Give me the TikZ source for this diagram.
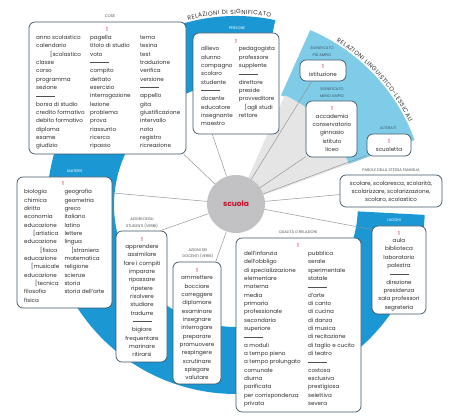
\documentclass[tikz,border=0pt]{standalone}
\usepackage{fontspec}
\setmainfont{Poppins}
\usetikzlibrary{decorations.text}
\definecolor{ringblue}{RGB}{27,152,212}
\definecolor{lightblue}{RGB}{126,204,232}
\definecolor{wedgegrey}{RGB}{229,229,229}
\definecolor{circgrey}{RGB}{194,194,196}
\definecolor{redtxt}{RGB}{200,16,46}
\definecolor{boxline}{RGB}{61,85,102}
\definecolor{txt}{RGB}{45,45,45}
\definecolor{lbl}{RGB}{80,80,80}
\definecolor{conncol}{RGB}{150,150,150}
\newcommand\itfont{\fontsize{5.6}{8.333}\selectfont}
\newcommand\lbfont{\fontsize{3.8}{6.8}\selectfont}
\newcommand\crvfont{\fontsize{6}{7}\selectfont}
\newcommand\rl{\textcolor{lbl}{\rule[1.6pt]{19pt}{0.4pt}}}
\tikzset{
  box/.style={draw=boxline, line width=0.7pt, fill=white, rounded corners=6pt, inner sep=0pt},
  itm/.style={font=\itfont, text=txt, inner sep=0pt, text height=4.1pt, text depth=1.2pt},
  one/.style={font=\itfont, text=redtxt, inner sep=0pt},
  lab/.style={font=\lbfont, text=lbl, inner sep=0pt, align=center},
  labw/.style={lab, text=white},
  labd/.style={lab, text=boxline},
  conn/.style={draw=conncol, line width=0.5pt}
}
\begin{document}
\begin{tikzpicture}[x=1pt,y=-1pt]
\fill[white] (0,0) rectangle (474,419);
\useasboundingbox (0,0) rectangle (474,419);
% background bands
\begin{scope}[shift={(236,205)}, y=1pt]
  \fill[ringblue] (78:189) arc[start angle=78, end angle=357, radius=189]
     -- (357:122) arc[start angle=357, end angle=78, radius=122] -- cycle;
  \fill[lightblue] (67:190) arc[start angle=67, end angle=20, radius=190]
     -- (20:118) arc[start angle=20, end angle=67, radius=120] -- cycle;
  \fill[wedgegrey] (0,0) -- (20:120) arc[start angle=20, end angle=66, radius=120] -- cycle;
  \path[decorate, decoration={text along path, text align=fit to path,
     text={|\crvfont\color{txt}|RELAZIONI DI SIGNIFICATO}}]
     (104.5:191) arc[start angle=104.5, end angle=79.5, radius=191];
  \path[decorate, decoration={text along path, text align=fit to path,
     text={|\crvfont\color{txt}|RELAZIONI LINGUISTICO-LESSICALI}}]
     (58.5:192) arc[start angle=58.5, end angle=25.5, radius=192];
\end{scope}

% centre
\node[circle, fill=circgrey, minimum size=58pt, inner sep=0pt, text=redtxt,
      font=\fontsize{7.5}{9}\selectfont\bfseries] (scuola) at (236,204) {scuola};

% boxes
\node[box, minimum width=157pt, minimum height=132pt] (cose) at (107.5,88) {};
\node[box, minimum width=86pt, minimum height=101pt] (persone) at (236,83.5) {};
\node[box, minimum width=46pt, minimum height=21pt] (istituz) at (323,70.5) {};
\node[box, minimum width=51pt, minimum height=56pt] (accad) at (331.5,129) {};
\node[box, minimum width=44pt, minimum height=22pt] (alter) at (389,145) {};
\node[box, minimum width=102pt, minimum height=32pt] (parole) at (391,191) {};
\node[box, minimum width=54pt, minimum height=88pt] (luoghi) at (399,270) {};
\node[box, minimum width=125pt, minimum height=174pt] (qualita) at (298.5,325) {};
\node[box, minimum width=95pt, minimum height=131pt] (materie) at (64.5,242.5) {};
\node[box, minimum width=51pt, minimum height=131pt] (studenti) at (141.5,296.5) {};
\node[box, minimum width=48pt, minimum height=122pt] (docenti) at (197,323) {};

% connectors
\draw[conn] (scuola) -- (cose.-41);
\draw[conn] (scuola) -- (persone.245);
\draw[conn] (scuola) -- (istituz.-136);
\draw[conn] (scuola) -- (accad.-133);
\draw[conn] (scuola) -- (alter.-155);
\draw[conn] (scuola) -- (parole.-176);
\draw[conn] (scuola) -- (luoghi.124);
\draw[conn] (scuola) -- (materie.46);
\draw[conn] (scuola) -- (studenti.74);
\draw[conn] (scuola) -- (docenti.73.5);

% labels
\node[lab] (l-cose) at (110,16) {COSE};
\node[labw] (l-pers) at (237,28) {PERSONE};
\node[labd] (l-piu) at (322,51.5) {SIGNIFICATO\\PIÙ AMPIO};
\node[labd] (l-meno) at (332,92.5) {SIGNIFICATO\\MENO AMPIO};
\node[labd] (l-alt) at (388,128) {ALTERATI};
\node[lab] (l-par) at (391,170) {PAROLE DELLA STESSA FAMIGLIA};
\node[labw] (l-luo) at (394,220) {LUOGHI};
\node[lab] (l-qual) at (298,232) {QUALITÀ O RELAZIONI};
\node[labw] (l-mat) at (75,171) {MATERIE};
\node[lab] (l-stu) at (142,223) {AZIONI DEGLI\\STUDENTI (VERBI)};
\node[lab] (l-doc) at (198,253.5) {AZIONI DEI\\DOCENTI (VERBI)};

% red numbers
\node[one] (n-cose) at (107,29) {1};
\node[one] (n-pers) at (236,41) {1};
\node[one] (n-ist) at (323,66) {1};
\node[one] (n-acc) at (332,108) {1};
\node[one] (n-alt) at (389,141) {1};
\node[one] (n-luo) at (399,233) {1};
\node[one] (n-qual) at (298,245) {1};
\node[one] (n-mat) at (63,183) {1};
\node[one] (n-stu) at (142,239) {1};
\node[one] (n-doc) at (197,270) {1};

% COSE
\foreach \dx/\t [count=\i] in {0/anno scolastico,0/calendario,14/[scolastico,0/classe,0/corso,0/programma,0/sezione,0/\rl,0/borsa di studio,0/credito formativo,0/debito formativo,0/diploma,0/esame,0/giudizio}
  \node[itm, anchor=west] (ca-\i) at ({36+\dx},{38+(\i-1)*8.333}) {\t};
\foreach \t [count=\i] in {pagella,titolo di studio,voto,\rl,compito,dettato,esercizio,interrogazione,lezione,problema,prova,riassunto,ricerca,ripasso}
  \node[itm, anchor=west] (cb-\i) at (90,{38+(\i-1)*8.333}) {\t};
\foreach \t [count=\i] in {tema,tesina,test,traduzione,verifica,versione,\rl,appello,gita,giustificazione,intervallo,nota,registro,ricreazione}
  \node[itm, anchor=west] (cc-\i) at (140,{38+(\i-1)*8.333}) {\t};

% PERSONE
\foreach \t [count=\i] in {allievo,alunno,compagno,scolaro,studente,\rl,docente,educatore,insegnante,maestro}
  \node[itm, anchor=west] (pa-\i) at (201,{49.33+(\i-1)*8.333}) {\t};
\foreach \dx/\t [count=\i] in {0/pedagogista,0/professore,0/supplente,0/\rl,0/direttore,0/preside,0/provveditore,6/[agli studi,0/rettore}
  \node[itm, anchor=west] (pb-\i) at ({238.7+\dx},{49.33+(\i-1)*8.333}) {\t};

% istituzione, accademia, scuoletta
\node[itm] (ist-1) at (323,74.7) {istituzione};
\foreach \t [count=\i] in {accademia,conservatorio,ginnasio,istituto,liceo}
  \node[itm] (acc-\i) at (332,{116.7+(\i-1)*8.333}) {\t};
\node[itm] (alt-1) at (389,150) {scuoletta};

% PAROLE
\node[itm, align=center, text height=, text depth=] (par-1) at (391,191.7)
  {scolare, scolaresca, scolarità,\\scolarizzare, scolarizzazione,\\scolaro, scolastico};

% LUOGHI
\foreach \t [count=\i] in {aula,biblioteca,laboratorio,palestra,\rl,direzione,presidenza,sala professori,segreteria}
  \node[itm] (luo-\i) at (399,{241+(\i-1)*8.333}) {\t};

% QUALITA
\foreach \t [count=\i] in {dell’infanzia,dell’obbligo,di specializzazione,elementare,materna,media,primaria,professionale,secondaria,superiore,\rl,a moduli,a tempo pieno,a tempo prolungato,comunale,diurna,parificata,per corrispondenza,privata}
  \node[itm, anchor=west] (qa-\i) at (244,{254+(\i-1)*8.333}) {\t};
\foreach \t [count=\i] in {pubblica,serale,sperimentale,statale,\rl,d’arte,di canto,di cucina,di danza,di musica,di recitazione,di taglio e cucito,di teatro,\rl,costosa,esclusiva,prestigiosa,selettiva,severa}
  \node[itm, anchor=west] (qb-\i) at (308,{254+(\i-1)*8.333}) {\t};

% MATERIE
\foreach \dx/\t [count=\i] in {0/biologia,0/chimica,0/diritto,0/economia,0/educazione,9/[artistica,0/educazione,16/[fisica,0/educazione,7/[musicale,0/educazione,11/[tecnica,0/filosofia,0/fisica}
  \node[itm, anchor=west] (ma-\i) at ({24+\dx},{192.3+(\i-1)*8.333}) {\t};
\foreach \dx/\t [count=\i] in {0/geografia,0/geometria,0/greco,0/italiano,0/latino,0/lettere,0/lingua,7/[straniera,0/matematica,0/religione,0/scienze,0/storia,0/storia dell’arte}
  \node[itm, anchor=west] (mb-\i) at ({64.3+\dx},{192.3+(\i-1)*8.333}) {\t};

% STUDENTI
\foreach \t [count=\i] in {apprendere,assimilare,fare i compiti,imparare,ripassare,ripetere,risolvere,studiare,tradurre,\rl,bigiare,frequentare,marinare,ritirarsi}
  \node[itm] (st-\i) at (142,{247+(\i-1)*8.333}) {\t};

% DOCENTI
\foreach \t [count=\i] in {ammettere,bocciare,correggere,diplomare,esaminare,insegnare,interrogare,preparare,promuovere,respingere,scrutinare,spiegare,valutare}
  \node[itm] (dc-\i) at (197,{278.3+(\i-1)*8.333}) {\t};
\end{tikzpicture}
\end{document}
